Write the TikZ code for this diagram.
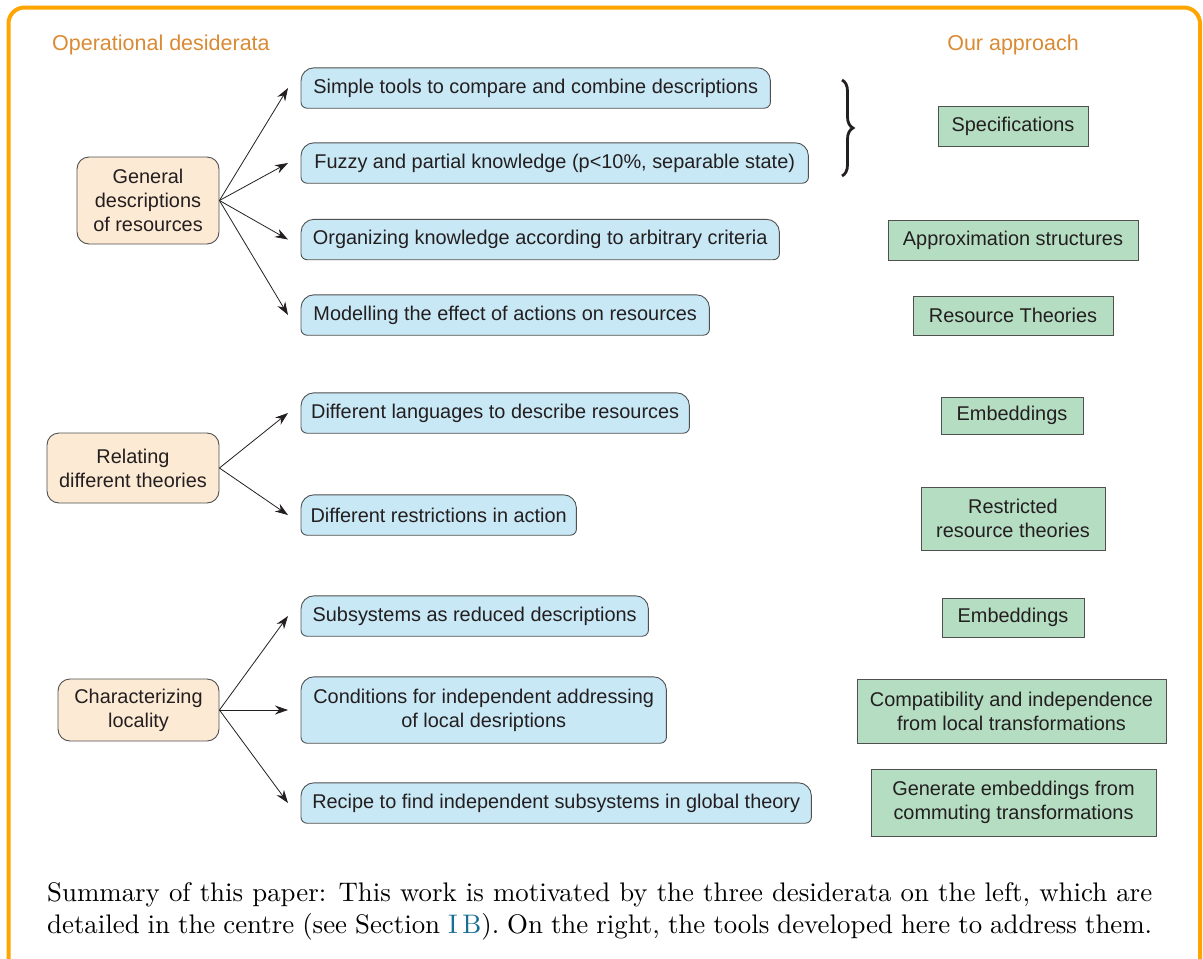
\documentclass[tikz,border=0pt]{standalone}
\usepackage{fontspec}
\setsansfont{Liberation Sans}
\newfontfamily\capfont{lmroman10-regular}[Extension=.otf]
\usetikzlibrary{arrows.meta,decorations.pathreplacing,backgrounds}
\definecolor{frameO}{RGB}{255,165,0}
\definecolor{headO}{RGB}{218,138,50}
\definecolor{oFill}{RGB}{253,234,212}
\definecolor{bFill}{RGB}{200,232,245}
\definecolor{gFill}{RGB}{181,221,194}
\definecolor{edgeC}{RGB}{80,80,80}
\definecolor{txtC}{RGB}{35,31,32}
\definecolor{linkC}{RGB}{25,110,150}
\tikzset{
  every node/.style={font=\sffamily\fontsize{19.9}{24}\selectfont, text=txtC},
  obox/.style={draw=edgeC, fill=oFill, rounded corners=12pt, align=center, inner sep=0pt, line width=0.9pt},
  bbox/.style={align=center, inner sep=0pt, anchor=west, minimum height=40pt},
  gbox/.style={draw=edgeC, fill=gFill, align=center, inner sep=0pt, line width=0.9pt},
  head/.style={font=\sffamily\fontsize{21.5}{26}\selectfont, text=headO},
  arr/.style={-{Stealth[length=13pt,width=9pt]}, line width=0.8pt, draw=txtC},
  bshape/.style={draw=edgeC, fill=bFill, line width=0.9pt},
  bracestyle/.style={decorate, decoration={brace, amplitude=11pt}, line width=2.8pt, draw=txtC},
}
\newcommand\bshapeof[1]{\path[bshape] ([yshift=-13pt]#1.north west) arc[start angle=180,end angle=90,radius=13pt] -- ([xshift=-13pt]#1.north east) arc[start angle=90,end angle=0,radius=13pt] -- ([yshift=6pt]#1.south east) arc[start angle=0,end angle=-90,radius=6pt] -- ([xshift=6pt]#1.south west) arc[start angle=270,end angle=180,radius=6pt] -- cycle;}
\begin{document}
\begin{tikzpicture}[x=1pt,y=1pt]
\useasboundingbox (0,0) rectangle (1203,-959);
\clip (0,0) rectangle (1203,-959);
\draw[frameO, line width=4pt, rounded corners=16pt] (8.5,-7.5) rectangle (1200,-1010);

\node[head, anchor=west, inner xsep=0pt] (h1) at (52,-45) {Operational desiderata};
\node[head] (h2) at (1013,-45) {Our approach};

\node[obox, minimum width=142pt, minimum height=87pt] (o1) at (148,-200.5) {General\\descriptions\\of resources};
\node[obox, minimum width=172pt, minimum height=70pt] (o2) at (133,-468) {Relating\\different theories};
\node[obox, minimum width=161pt, minimum height=62pt] (o3) at (138.5,-710) {Characterizing\\locality};

\node[bbox, minimum width=469pt] (b1) at (301,-88) {Simple tools to compare and combine descriptions};
\node[bbox, minimum width=507pt] (b2) at (301,-163) {Fuzzy and partial knowledge (p<10\%, separable state)};
\node[bbox, minimum width=478pt] (b3) at (301,-239.5) {Organizing knowledge according to arbitrary criteria};
\node[bbox, minimum width=408pt] (b4) at (301,-315) {Modelling the effect of actions on resources};
\node[bbox, minimum width=388pt] (b5) at (301,-413) {Different languages to describe resources};
\node[bbox, minimum width=275pt] (b6) at (301,-515) {Different restrictions in action};
\node[bbox, minimum width=347pt] (b7) at (301,-616) {Subsystems as reduced descriptions};
\node[bbox, minimum width=365pt, minimum height=66pt] (b8) at (301,-710) {Conditions for independent addressing\\of local desriptions};
\node[bbox, minimum width=510pt] (b9) at (301,-803) {Recipe to find independent subsystems in global theory};

\begin{scope}[on background layer]
\foreach \n in {b1,b2,b3,b4,b5,b6,b7,b8,b9} {\bshapeof{\n}}
\end{scope}

\node[gbox, minimum width=150pt, minimum height=40pt] (g1) at (1013,-126) {Specifications};
\node[gbox, minimum width=250pt, minimum height=40pt] (g2) at (1013,-240) {Approximation structures};
\node[gbox, minimum width=200pt, minimum height=39pt] (g3) at (1013,-315.5) {Resource Theories};
\node[gbox, minimum width=142pt, minimum height=37pt] (g4) at (1012,-415.5) {Embeddings};
\node[gbox, minimum width=184pt, minimum height=63pt] (g5) at (1013,-518.5) {Restricted\\resource theories};
\node[gbox, minimum width=142pt, minimum height=39pt] (g6) at (1013,-617.5) {Embeddings};
\node[gbox, minimum width=309pt, minimum height=64pt] (g7) at (1011.5,-711) {Compatibility and independence\\from local transformations};
\node[gbox, minimum width=285pt, minimum height=67pt] (g8) at (1013.5,-802.5) {Generate embeddings from\\commuting transformations};

\foreach \s/\t in {o1/b1,o1/b2,o1/b3,o1/b4,o2/b5,o2/b6,o3/b7,o3/b8,o3/b9}
  \draw[arr] (\s.east) -- ([xshift=-13pt]\t.west);

\coordinate (brT) at (842,-80);
\coordinate (brB) at (842,-176);
\draw[bracestyle] (brT) -- (brB);

\node[anchor=north west, text width=1105pt, align=justify, inner sep=0pt, font=\capfont\fontsize{26.85}{32.2}\selectfont, text=black] (cap) at (47,-882.5) {\parfillskip=0pt Summary of this paper: This work is motivated by the three desiderata on the left, which are\linebreak detailed in the centre (see Section \textcolor{linkC}{I\,B}). On the right, the tools developed here to address them.};
\end{tikzpicture}
\end{document}
